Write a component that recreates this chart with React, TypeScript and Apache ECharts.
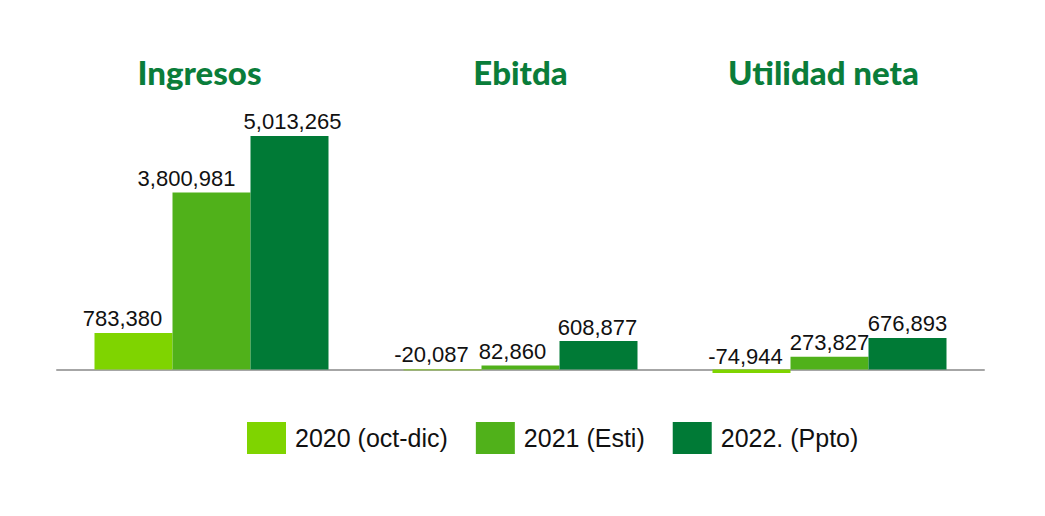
import React, { useEffect, useRef } from 'react';
import * as echarts from 'echarts';

const categories = ['Ingresos', 'Ebitda', 'Utilidad neta'];
const seriesNames = ['2020 (oct-dic)', '2021 (Esti)', '2022. (Ppto)'];
const values2020 = [783380, -20087, -74944];
const values2021 = [3800981, 82860, 273827];
const values2022 = [5013265, 608877, 676893];
const colors = ['#7fd400', '#50b11a', '#007a36'];

// horizontal nudges of the value labels, per series / category (px)
const labelShift = [
  [-11, -11, -6],
  [-25, -8, 0],
  [3, -1, 0],
];
// nudges of the group titles (right padding moves the text left)
const titlePad = [24, 0, 12];

const fmt = (v: number) => v.toLocaleString('en-US');

const App: React.FC = () => {
  const chartRef = useRef<HTMLDivElement>(null);

  useEffect(() => {
    const chart = echarts.init(chartRef.current!, null, { renderer: 'svg' });

    const makeSeries = (idx: number, data: number[]) => ({
      name: seriesNames[idx],
      type: 'bar',
      barWidth: 78,
      barGap: '0%',
      itemStyle: { color: colors[idx] },
      data: data.map((v, i) => ({
        value: v,
        label:
          v < 0
            ? { position: 'insideBottom', offset: [labelShift[idx][i], -2] }
            : { offset: [labelShift[idx][i], 0] },
      })),
      label: {
        show: true,
        position: 'top',
        distance: 3,
        color: '#111',
        fontSize: 22,
        fontFamily: 'Liberation Sans',
        formatter: (p: any) => fmt(p.value),
      },
    });

    const option = {
      animation: false,
      grid: { left: 49, width: 927, top: 82, height: 326 },
      legend: {
        bottom: 49,
        left: 234,
        itemWidth: 39,
        itemHeight: 32,
        itemGap: 28,
        icon: 'rect',
        textStyle: {
          fontSize: 25,
          color: '#111',
          fontFamily: 'Liberation Sans',
          padding: [0, 0, 0, 4],
        },
        data: seriesNames,
      },
      xAxis: [
        {
          type: 'category',
          data: categories,
          axisLine: { lineStyle: { color: '#a6a6a6', width: 2 } },
          axisTick: { show: false },
          axisLabel: { show: false },
        },
        {
          type: 'category',
          position: 'top',
          data: categories.map((c, i) => ({
            value: c,
            textStyle: { padding: [0, titlePad[i], 0, 0] },
          })),
          axisLine: { show: false },
          axisTick: { show: false },
          axisLabel: {
            margin: 2,
            color: '#0a7d3a',
            fontSize: 33,
            fontWeight: 900,
            fontFamily: 'Lato',
          },
        },
      ],
      yAxis: {
        type: 'value',
        min: -1000000,
        max: 6000000,
        show: false,
        splitLine: { show: false },
      },
      series: [makeSeries(0, values2020), makeSeries(1, values2021), makeSeries(2, values2022)],
    };

    chart.setOption(option);

    return () => {
      chart.dispose();
    };
  }, []);

  return <div ref={chartRef} style={{ width: 1029, height: 500 }} />;
};

export default App;
